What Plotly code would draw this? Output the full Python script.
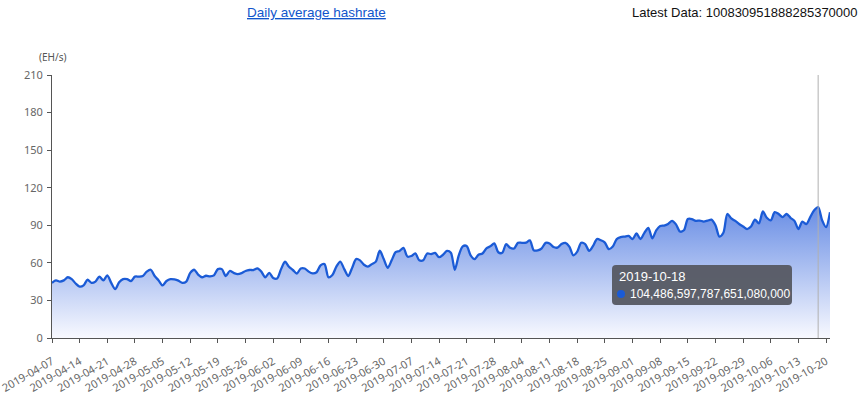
"""Daily average hashrate chart (EH/s) with hover tooltip snapshot."""

import pandas as pd
import plotly.graph_objects as go

COL_LINE = "#1b5bd6"
COL_AXIS = "#555555"
COL_TICK_TEXT = "#666666"
COL_TIP = "rgba(88,91,101,0.97)"

START_DATE = "2019-04-07"
HOVER_DATE = "2019-10-18"
HOVER_TEXT = "104,486,597,787,651,080,000"
LATEST_TEXT = "Latest Data: 100830951888285370000"

# daily average hashrate, EH/s
hashrate = [
    44, 46, 45, 46, 48.5, 47, 43.5, 41, 42, 46.5,
    44, 45, 49, 46, 50, 44, 39, 44.5, 47, 47,
    45.5, 49, 49, 49.5, 53, 54.5, 49.5, 46, 42, 45.5,
    47, 46.8, 45.8, 44, 45, 52, 54.5, 50.6, 48.5, 49.7,
    49.2, 50, 55, 55, 49.5, 53.5, 52, 51, 51.8, 53.5,
    54.3, 54.3, 55.6, 53, 48.5, 52, 48, 47.5, 55, 60.9,
    56.9, 54.3, 51.5, 55.5, 55.5, 53, 51.6, 52.5, 58, 59,
    48.5, 50.3, 57, 61, 55, 49.5, 56, 63, 62, 58.5,
    57, 59, 61, 69.7, 63, 56, 62, 68.5, 69.5, 72,
    65, 65.5, 67.5, 62, 62, 67.5, 67, 68, 64.5, 66.5,
    69.5, 68, 54.5, 66, 73.2, 73.5, 66, 63, 66.5, 67.5,
    71.6, 73.2, 75.5, 68.5, 68, 75, 72, 71.5, 76, 76,
    76.1, 78, 70, 70, 71.6, 76, 75.5, 72.6, 72.2, 75,
    76, 73, 66, 69, 76, 75, 69.5, 73.5, 79, 78,
    76.2, 71, 73, 79, 80.6, 81, 81.5, 79, 83.5, 79,
    84, 88, 79.5, 86, 89.5, 89.8, 91, 93.6, 90.7, 85,
    86, 95, 95, 93.5, 93.8, 93, 93.7, 94.5, 90, 81,
    84, 99, 95.5, 93.5, 91, 89, 87, 89, 94.5, 91.5,
    101, 96, 94, 100.5, 99, 96.5, 99, 96, 93.5, 87,
    93, 91, 96.5, 102, 104.49, 94, 88.5, 100.5,
]
dates = pd.date_range(START_DATE, periods=len(hashrate), freq="D")

W, H = 864, 400
M = {"l": 52, "r": 34, "t": 75, "b": 62}
pw, ph = W - M["l"] - M["r"], H - M["t"] - M["b"]


def px_to_paper(px, py):
    """window pixel -> paper coordinates"""
    return (px - M["l"]) / pw, (H - M["b"] - py) / ph


def rounded_rect(x0, y0, x1, y1, r):
    """svg path (paper coords) of a rounded box given in window pixels"""
    a, b, c, d, e, f, g, h = [px_to_paper(px, py) for px, py in [
        (x0 + r, y0), (x1 - r, y0), (x1, y0 + r), (x1, y1 - r),
        (x1 - r, y1), (x0 + r, y1), (x0, y1 - r), (x0, y0 + r)]]
    c0, c1 = px_to_paper(x1, y0), px_to_paper(x1, y1)
    c2, c3 = px_to_paper(x0, y1), px_to_paper(x0, y0)
    return (f"M{a[0]},{a[1]} L{b[0]},{b[1]} Q{c0[0]},{c0[1]} {c[0]},{c[1]} "
            f"L{d[0]},{d[1]} Q{c1[0]},{c1[1]} {e[0]},{e[1]} "
            f"L{f[0]},{f[1]} Q{c2[0]},{c2[1]} {g[0]},{g[1]} "
            f"L{h[0]},{h[1]} Q{c3[0]},{c3[1]} {a[0]},{a[1]} Z")


fig = go.Figure()
fig.add_trace(go.Scatter(
    x=dates, y=hashrate, mode="lines", line_shape="spline",
    line={"color": COL_LINE, "width": 2.3, "smoothing": 0.8},
    fill="tozeroy",
    fillgradient={
        "type": "vertical", "start": 0, "stop": 108,
        "colorscale": [[0, "rgba(248,249,255,1)"], [1, "rgba(100,138,228,1)"]],
    },
    hoverinfo="skip", showlegend=False,
))

# hover crosshair + tooltip snapshot
fig.add_shape(
    type="line", xref="x", yref="paper", x0=HOVER_DATE, x1=HOVER_DATE,
    y0=0, y1=1, line={"color": "#b0b0b0", "width": 1},
)
fig.add_shape(
    type="path", xref="paper", yref="paper", path=rounded_rect(612, 265, 792, 305, 4),
    fillcolor=COL_TIP, line={"width": 0}, layer="above",
)
cx0, cy0 = px_to_paper(617, 290)
cx1, cy1 = px_to_paper(625, 298)
fig.add_shape(
    type="circle", xref="paper", yref="paper", x0=cx0, y0=cy0, x1=cx1, y1=cy1,
    fillcolor=COL_LINE, line={"width": 0}, layer="above",
)
x, y = px_to_paper(617, 276)
fig.add_annotation(
    x=x, y=y, xref="paper", yref="paper", xanchor="left", yanchor="middle",
    showarrow=False, text="2019-10-18",
    font={"family": "Liberation Sans, Arial", "size": 13, "color": "white"},
)
x, y = px_to_paper(628, 294)
fig.add_annotation(
    x=x, y=y, xref="paper", yref="paper", xanchor="left", yanchor="middle",
    showarrow=False, text=HOVER_TEXT,
    font={"family": "Liberation Sans, Arial", "size": 12, "color": "white"},
)

x, y = px_to_paper(316, 13)
fig.add_annotation(
    x=x, y=y, xref="paper", yref="paper", showarrow=False,
    xanchor="center", yanchor="middle",
    text="<u>Daily average hashrate</u>",
    font={"family": "Liberation Sans, Arial", "size": 13.5, "color": "#1155cc"},
)
x, y = px_to_paper(860, 13)
fig.add_annotation(
    x=x, y=y, xref="paper", yref="paper", showarrow=False,
    xanchor="right", yanchor="middle",
    text=LATEST_TEXT,
    font={"family": "Liberation Sans, Arial", "size": 13, "color": "#111111"},
)
x, y = px_to_paper(37, 57)
fig.add_annotation(
    x=x, y=y, xref="paper", yref="paper", showarrow=False,
    xanchor="left", yanchor="middle",
    text="(EH/s)",
    font={"family": "Noto Sans, DejaVu Sans", "size": 10, "color": "#555555"},
)

fig.update_layout(
    width=W, height=H, margin=M,
    plot_bgcolor="white", paper_bgcolor="white",
    font={"family": "Noto Sans, DejaVu Sans", "size": 11, "color": COL_TICK_TEXT},
    xaxis={
        "type": "date", "automargin": False,
        "range": [START_DATE, dates[-1]],
        "tick0": START_DATE, "dtick": 7 * 86400000,
        "tickformat": "%Y-%m-%d", "tickangle": -30,
        "ticks": "outside", "ticklen": 4, "tickcolor": COL_AXIS,
        "ticklabelstandoff": 8, "ticklabeloverflow": "allow",
        "showline": True, "linecolor": COL_AXIS, "linewidth": 1,
        "showgrid": False, "zeroline": False,
        "tickfont": {"size": 11, "color": COL_TICK_TEXT},
    },
    yaxis={
        "range": [0, 210], "dtick": 30, "automargin": False,
        "ticks": "outside", "ticklen": 4, "tickcolor": COL_AXIS,
        "ticklabelstandoff": 2,
        "showline": True, "linecolor": COL_AXIS, "linewidth": 1,
        "showgrid": False, "zeroline": False,
        "tickfont": {"size": 11, "color": COL_TICK_TEXT},
    },
)

# drop the default 8px page margin so the figure fills the window
fig.write_html(
    "out.html",
    config={"displayModeBar": False},
    post_script="document.body.style.margin='0';",
)
